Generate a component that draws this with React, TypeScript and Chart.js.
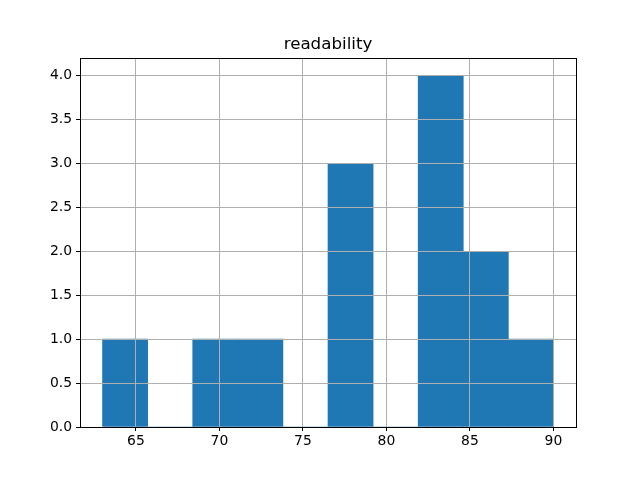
import React, { useEffect, useRef } from "react";
import { Chart, registerables } from "chart.js";

Chart.register(...registerables);

const title = "readability";
const binCenters = [64.35, 67.05, 69.75, 72.45, 75.15, 77.85, 80.55, 83.25, 85.95, 88.65];
const counts = [1, 0, 1, 1, 0, 3, 0, 4, 2, 1];
const xTicks = [65, 70, 75, 80, 85, 90];
const yTicks = [0, 0.5, 1, 1.5, 2, 2.5, 3, 3.5, 4];

const FONT = "'DejaVu Sans', sans-serif";

const framePlugin = {
  id: "frame",
  afterDraw(chart: any) {
    const { ctx, chartArea } = chart;
    ctx.save();
    ctx.strokeStyle = "#000";
    ctx.lineWidth = 1;
    ctx.strokeRect(
      Math.round(chartArea.left) + 0.5,
      Math.round(chartArea.top) + 0.5,
      Math.round(chartArea.right - chartArea.left),
      Math.round(chartArea.bottom - chartArea.top)
    );
    ctx.fillStyle = "#000";
    ctx.font = `16.7px ${FONT}`;
    ctx.textAlign = "center";
    ctx.textBaseline = "alphabetic";
    ctx.fillText(title, (chartArea.left + chartArea.right) / 2, 49);
    ctx.restore();
  },
};

export default function App() {
  const ref = useRef<HTMLCanvasElement>(null);
  useEffect(() => {
    document.body.style.margin = "0";
    const chart = new Chart(ref.current!, {
      type: "bar",
      data: {
        datasets: [
          {
            data: binCenters.map((x, i) => ({ x, y: counts[i] })),
            backgroundColor: "#1f77b4",
            borderWidth: 0,
            barPercentage: 1,
            categoryPercentage: 1,
          },
        ],
      },
      options: {
        animation: false,
        responsive: false,
        layout: { padding: { left: 0, right: 64, top: 58, bottom: 0 } },
        plugins: { legend: { display: false }, tooltip: { enabled: false }, title: { display: false } },
        scales: {
          x: {
            type: "linear",
            offset: false,
            min: 61.65,
            max: 91.35,
            afterBuildTicks: (s: any) => {
              s.ticks = xTicks.map((v) => ({ value: v }));
            },
            afterFit: (s: any) => {
              s.height = 53;
            },
            ticks: { color: "#000", font: { family: FONT, size: 13.9 }, padding: 2, maxRotation: 0 },
            grid: { offset: false, color: "#b0b0b0", lineWidth: 1, z: 1, tickColor: "#000", tickLength: 4, drawOnChartArea: true },
            border: { display: false },
          },
          y: {
            type: "linear",
            min: 0,
            max: 4.2,
            afterBuildTicks: (s: any) => {
              s.ticks = yTicks.map((v) => ({ value: v }));
            },
            afterFit: (s: any) => {
              s.width = 80;
            },
            ticks: {
              color: "#000",
              font: { family: FONT, size: 13.9 },
              padding: 4,
              callback: (v: any) => Number(v).toFixed(1),
            },
            grid: { color: "#b0b0b0", lineWidth: 1, z: 1, tickColor: "#000", tickLength: 4 },
            border: { display: false },
          },
        },
      },
      plugins: [framePlugin],
    } as any);
    return () => chart.destroy();
  }, []);
  return <canvas ref={ref} width={640} height={480} style={{ display: "block" }} />;
}
